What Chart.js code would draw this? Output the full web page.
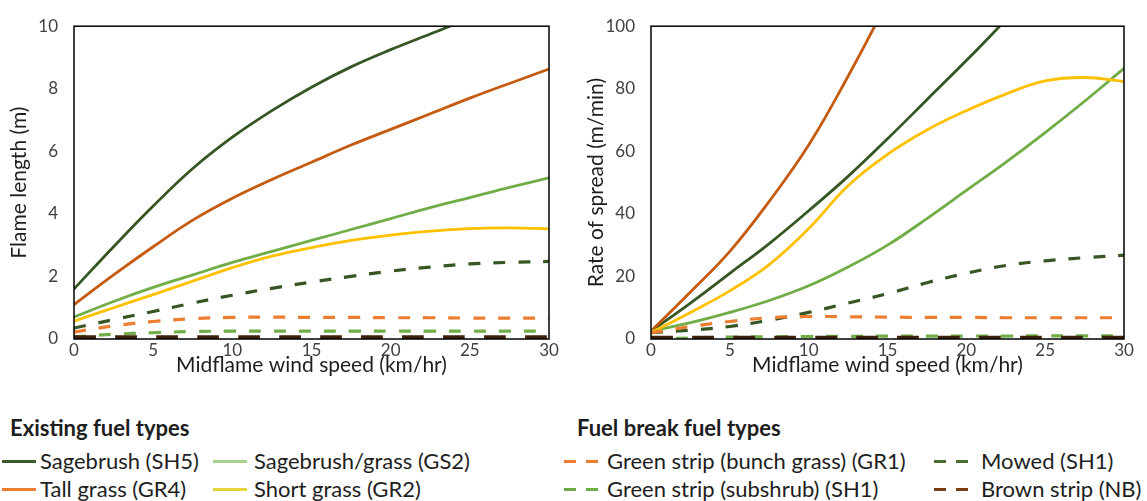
<!DOCTYPE html>
<html>
<head>
<meta charset="utf-8">
<script src="https://cdn.jsdelivr.net/npm/chart.js@4.4.1/dist/chart.umd.min.js"></script>
<style>
  body { margin:0; background:#fff; width:1147px; height:501px; position:relative; overflow:hidden; font-family:Lato, sans-serif; color:#1e1e1e; }
  .box { position:absolute; top:0; height:376px; }
  .lg-title { position:absolute; font-weight:bold; font-size:22px; line-height:24px; }
  .lg-item { position:absolute; font-size:22px; line-height:24px; white-space:nowrap; }
  .sw { position:absolute; height:3px; }
</style>
</head>
<body>

<div class="box" style="left:0;width:560px"><canvas id="chartFlame"></canvas></div>
<div class="box" style="left:575px;width:572px"><canvas id="chartRos"></canvas></div>

<div id="legend"></div>

<script>
// wind speed (km/hr)
const windSpeed = [0, 2.5, 5, 7.5, 10, 12.5, 15, 17.5, 20, 22.5, 25, 27.5, 30];

// flame length (m)
const flSH5   = [1.6, 2.95, 4.25, 5.45, 6.45, 7.3, 8.05, 8.7, 9.25, 9.75, 10.25, 10.7, 11.1];
const flGR4   = [1.1, 2.05, 2.95, 3.8, 4.5, 5.1, 5.65, 6.2, 6.7, 7.2, 7.7, 8.17, 8.63];
const flGS2   = [0.7, 1.2, 1.65, 2.05, 2.45, 2.8, 3.15, 3.5, 3.85, 4.2, 4.52, 4.85, 5.15];
const flGR2   = [0.57, 1.0, 1.42, 1.85, 2.28, 2.65, 2.92, 3.15, 3.32, 3.45, 3.53, 3.55, 3.52];
const flGR1   = [0.22, 0.42, 0.56, 0.65, 0.69, 0.7, 0.69, 0.69, 0.68, 0.68, 0.67, 0.67, 0.67];
const flSH1g  = [0.07, 0.15, 0.2, 0.24, 0.25, 0.25, 0.25, 0.25, 0.25, 0.25, 0.25, 0.25, 0.25];
const flMowed = [0.35, 0.62, 0.88, 1.15, 1.4, 1.62, 1.82, 2.0, 2.17, 2.3, 2.4, 2.45, 2.48];
const flNB    = [0.02, 0.02, 0.02, 0.02, 0.02, 0.02, 0.02, 0.02, 0.02, 0.02, 0.02, 0.02, 0.02];

// rate of spread (m/min)
const rosSH5   = [2.5, 11.5, 21, 30.5, 41, 52, 64, 76.5, 89, 102, 115, 128, 141];
const rosGR4   = [2.5, 15, 28, 44, 62, 84, 108, 134, 162, 190, 220, 250, 280];
const rosGS2   = [2.5, 5.2, 8.5, 12.3, 17, 23, 30, 38.5, 47.5, 56.5, 66, 76, 86.5];
const rosGR2   = [2, 8.5, 15.4, 23.8, 35.3, 49, 59, 66.8, 73, 78.3, 82.5, 83.6, 82.3];
const rosGR1   = [2, 4, 5.6, 6.8, 7.2, 7.1, 7.0, 6.9, 6.9, 6.8, 6.8, 6.8, 6.8];
const rosSH1g  = [0, 0.3, 0.6, 0.7, 0.8, 0.85, 0.9, 0.9, 0.95, 0.95, 1, 1, 1];
const rosMowed = [2, 2.8, 4, 6, 8.5, 11.5, 14.5, 18, 21, 23.5, 25, 26, 26.8];
const rosNB    = [0.1, 0.1, 0.1, 0.1, 0.1, 0.1, 0.1, 0.1, 0.1, 0.1, 0.1, 0.1, 0.1];

const C_DKGREEN = '#375623';
const C_RUST    = '#C55A11';
const C_LTGREEN = '#70AD47';
const C_GOLD    = '#FFC000';
const C_ORANGE  = '#ED7D31';
const C_BROWN   = '#3F2009';

const FONT = 'Lato, sans-serif';

function pts(ys) {
  return windSpeed.map((x, i) => ({ x, y: ys[i] }));
}

function solid(data, color) {
  return { data: pts(data), borderColor: color, borderWidth: 2.8, pointRadius: 0, tension: 0.4, fill: false };
}
function dashed(data, color, w, dash) {
  return { data: pts(data), borderColor: color, borderWidth: w || 3.2, borderDash: dash || [12, 13], pointRadius: 0, tension: 0.4, fill: false };
}

// black frame round the plot area
const framePlugin = {
  id: 'frame',
  afterDraw(chart) {
    const a = chart.chartArea, ctx = chart.ctx;
    ctx.save();
    ctx.strokeStyle = '#000';
    ctx.lineWidth = 1.5;
    ctx.strokeRect(a.left, a.top, a.right - a.left, a.bottom - a.top);
    ctx.restore();
  }
};

function makeChart(id, sets, yMax, yStep, yTitle, yWidth, padRight, titlePad) {
  return new Chart(document.getElementById(id), {
    type: 'line',
    data: { datasets: sets },
    options: {
      responsive: true,
      maintainAspectRatio: false,
      animation: false,
      layout: { padding: { top: 21, right: padRight, left: 0, bottom: 0 } },
      plugins: { legend: { display: false }, tooltip: { enabled: false } },
      scales: {
        x: {
          type: 'linear', min: 0, max: 30,
          ticks: { stepSize: 5, color: '#404040', font: { size: 17, family: FONT }, padding: 1 },
          grid: { display: false, drawTicks: false },
          border: { display: false },
          title: { display: true, text: 'Midflame wind speed (km/hr)', color: '#1e1e1e', font: { size: 21, family: FONT, lineHeight: 1 }, padding: { top: 0, bottom: 0 } },
          afterFit(s) { s.height = 37; }
        },
        y: {
          min: 0, max: yMax,
          ticks: { stepSize: yStep, color: '#404040', font: { size: 17, family: FONT }, padding: 16 },
          grid: { display: false, drawTicks: false },
          border: { display: false },
          title: { display: true, text: yTitle, color: '#1e1e1e', font: { size: 21, family: FONT, lineHeight: 1 }, padding: { top: titlePad, bottom: 0 } },
          afterFit(s) { s.width = yWidth; }
        }
      }
    },
    plugins: [framePlugin]
  });
}

makeChart('chartFlame', [
  dashed(flNB, C_BROWN, 6, [22, 19]),
  dashed(flSH1g, C_LTGREEN),
  dashed(flGR1, C_ORANGE),
  dashed(flMowed, C_DKGREEN),
  solid(flGR2, C_GOLD),
  solid(flGS2, C_LTGREEN),
  solid(flGR4, C_RUST),
  solid(flSH5, C_DKGREEN),
], 10, 2, 'Flame length (m)', 74, 11, 9);

makeChart('chartRos', [
  dashed(rosNB, C_BROWN, 6, [22, 19]),
  dashed(rosSH1g, C_LTGREEN),
  dashed(rosGR1, C_ORANGE),
  dashed(rosMowed, C_DKGREEN),
  solid(rosGR2, C_GOLD),
  solid(rosGS2, C_LTGREEN),
  solid(rosGR4, C_RUST),
  solid(rosSH5, C_DKGREEN),
], 100, 20, 'Rate of spread (m/min)', 76, 23, 11);

// legend (drawn as page text, like the original figure's separate key)
const legendTitles = ['Existing fuel types', 'Fuel break fuel types'];
const legendTitleX = [10, 577];
const existingNames  = ['Sagebrush (SH5)', 'Sagebrush/grass (GS2)', 'Tall grass (GR4)', 'Short grass (GR2)'];
const existingColors = ['#3B5A2A', '#A9D18E', '#ED7D31', '#E6D43C'];
const breakNames  = ['Green strip (bunch grass) (GR1)', 'Mowed (SH1)', 'Green strip (subshrub) (SH1)', 'Brown strip (NB)'];
const breakColors = ['#ED7D31', '#4B6E2F', '#70AD47', '#7A3E12'];

function buildLegend() {
  const el = document.getElementById('legend');
  let html = '';
  legendTitles.forEach((t, i) => {
    html += `<div class="lg-title" style="left:${legendTitleX[i]}px;top:416px">${t}</div>`;
  });
  const rowsY = [461, 489];
  existingNames.forEach((n, i) => {
    const col = i % 2, row = Math.floor(i / 2);
    const lx = col === 0 ? 2 : 213, tx = col === 0 ? 40 : 254;
    const y = rowsY[row];
    html += `<div class="sw" style="left:${lx}px;top:${y - 1}px;width:34px;background:${existingColors[i]}"></div>`;
    html += `<div class="lg-item" style="left:${tx}px;top:${y - 12}px">${n}</div>`;
  });
  breakNames.forEach((n, i) => {
    const col = i % 2, row = Math.floor(i / 2);
    const lx = col === 0 ? 564 : 934, tx = col === 0 ? 607 : 981;
    const y = rowsY[row];
    html += `<div class="sw" style="left:${lx}px;top:${y - 1}px;width:12px;background:${breakColors[i]}"></div>`;
    html += `<div class="sw" style="left:${lx + 22}px;top:${y - 1}px;width:12px;background:${breakColors[i]}"></div>`;
    html += `<div class="lg-item" style="left:${tx}px;top:${y - 12}px">${n}</div>`;
  });
  el.innerHTML = html;
}
buildLegend();
</script>
</body>
</html>
